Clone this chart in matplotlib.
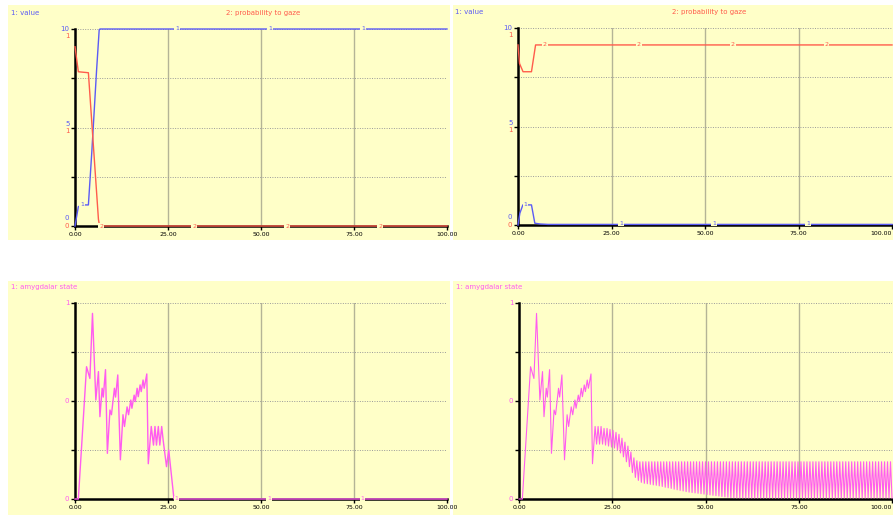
import matplotlib.pyplot as plt
from matplotlib.patches import Rectangle
import numpy as np

W, H = 893, 516
BG = '#ffffc8'
BLUE = '#5b5bf5'
RED = '#ff5c4c'
PINK = '#ff5cf0'

# top-left run: value (0-10) and probability to gaze (0-1)
value_t_a = [0, 0.9, 1.8, 3.6, 4.5, 5.8, 6.5, 6.7, 100]
value_a = [0, 0.98, 1.07, 1.07, 3.7, 7.9, 9.95, 10, 10]
gaze_t_a = [0, 0.9, 3.6, 4.9, 6.3, 6.6, 100]
gaze_a = [0.91, 0.783, 0.778, 0.42, 0.034, 0, 0]

# top-right run
value_t_b = [0, 0.5, 1.3, 3.6, 4.5, 6.0, 8.0, 100]
value_b = [0, 0.6, 1.02, 1.02, 0.09, 0.05, 0.03, 0.03]
gaze_t_b = [0, 0.4, 1.35, 3.6, 4.7, 100]
gaze_b = [0.914, 0.82, 0.778, 0.778, 0.914, 0.914]

# amygdalar state, common start of both runs
amyg_t = [0, 0.9, 3.1, 4.0, 4.7, 5.6, 6.3, 6.7, 7.3, 7.6, 8.2, 8.7, 9.4, 9.8,
          10.6, 10.9, 11.5, 12.2, 12.9, 13.3, 14.0, 14.4, 15.0, 15.3, 15.9,
          16.2, 16.7, 17.0, 17.5, 17.8, 18.3, 18.6, 19.3, 19.7]
amyg = [0, 0, 0.675, 0.615, 0.947, 0.505, 0.65, 0.42, 0.565, 0.52, 0.66, 0.233,
        0.454, 0.43, 0.565, 0.52, 0.633, 0.2, 0.43, 0.37, 0.47, 0.43, 0.505,
        0.463, 0.53, 0.497, 0.565, 0.522, 0.582, 0.548, 0.607, 0.565, 0.638, 0.18]

# bottom-left run tail
tail_t_a = [20.5, 21.1, 21.5, 21.9, 22.4, 22.8, 23.3, 23.7, 24.6, 25.2, 26.6, 100]
tail_a = [0.37, 0.275, 0.37, 0.275, 0.37, 0.275, 0.37, 0.3, 0.165, 0.25, 0, 0]

# bottom-right run tail: oscillation peaks / troughs, one pair per 0.8 time units from t=20.4
osc_start, osc_step = 20.4, 0.4
osc_peaks = [
    0.37, 0.37, 0.37, 0.36, 0.36, 0.355, 0.35, 0.34, 0.33, 0.31,
    0.29, 0.27, 0.24, 0.21, 0.195, 0.19, 0.19, 0.19, 0.19, 0.19,
    0.19, 0.19, 0.19, 0.19, 0.19, 0.19, 0.19, 0.19, 0.19, 0.19,
    0.19, 0.19, 0.19, 0.19, 0.19, 0.19, 0.19, 0.19, 0.19, 0.19,
    0.19, 0.19, 0.19, 0.19, 0.19, 0.19, 0.19, 0.19, 0.19, 0.19,
    0.19, 0.19, 0.19, 0.19, 0.19, 0.19, 0.19, 0.19, 0.19, 0.19,
    0.19, 0.19, 0.19, 0.19, 0.19, 0.19, 0.19, 0.19, 0.19, 0.19,
    0.19, 0.19, 0.19, 0.19, 0.19, 0.19, 0.19, 0.19, 0.19, 0.19,
    0.19, 0.19, 0.19, 0.19, 0.19, 0.19, 0.19, 0.19, 0.19, 0.19,
    0.19, 0.19, 0.19, 0.19, 0.19, 0.19, 0.19, 0.19, 0.19, 0.19,
]
osc_troughs = [
    0.28, 0.28, 0.28, 0.275, 0.27, 0.265, 0.26, 0.25, 0.235, 0.215,
    0.19, 0.165, 0.135, 0.11, 0.095, 0.085, 0.08, 0.078, 0.075, 0.072,
    0.07, 0.067, 0.064, 0.06, 0.057, 0.054, 0.05, 0.047, 0.044, 0.041,
    0.038, 0.035, 0.033, 0.031, 0.029, 0.027, 0.025, 0.023, 0.021, 0.019,
    0.017, 0.015, 0.013, 0.011, 0.009, 0.007, 0.006, 0.005, 0.005, 0.005,
    0.005, 0.005, 0.005, 0.005, 0.005, 0.005, 0.005, 0.005, 0.005, 0.005,
    0.005, 0.005, 0.005, 0.005, 0.005, 0.005, 0.005, 0.005, 0.005, 0.005,
    0.005, 0.005, 0.005, 0.005, 0.005, 0.005, 0.005, 0.005, 0.005, 0.005,
    0.005, 0.005, 0.005, 0.005, 0.005, 0.005, 0.005, 0.005, 0.005, 0.005,
    0.005, 0.005, 0.005, 0.005, 0.005, 0.005, 0.005, 0.005, 0.005, 0.005,
]

xticks = [0, 25, 50, 75, 100]
xticklabels = ['0.00', '25.00', '50.00', '75.00', '100.00']

fig = plt.figure(figsize=(W / 100, H / 100), dpi=100)
fig.patch.set_facecolor('white')


def panel(bg_box, ax_box, right_edge=False):
    x0, y0, x1, y1 = bg_box
    fig.patches.append(Rectangle((x0 / W, 1 - y1 / H), (x1 - x0) / W, (y1 - y0) / H,
                                 transform=fig.transFigure, facecolor=BG,
                                 edgecolor='none', zorder=-10))
    l, t, r, b = ax_box
    ax = fig.add_axes([l / W, 1 - b / H, (r - l) / W, (b - t) / H])
    ax.set_facecolor('none')
    ax.set_xlim(0, 100)
    ax.set_ylim(0, 1)
    for s in ['top', 'right']:
        ax.spines[s].set_visible(False)
    for s in ['left', 'bottom']:
        ax.spines[s].set_linewidth(1.8)
        ax.spines[s].set_color('black')
    ax.set_xticks(xticks)
    ax.set_xticklabels(xticklabels, fontsize=4.5)
    if right_edge:
        ax.get_xticklabels()[-1].set_ha('right')
    ax.set_yticks([0, 0.25, 0.5, 0.75, 1])
    ax.set_yticklabels([])
    ax.tick_params(axis='both', length=3, width=1, pad=1.5, direction='out')
    for x in [25, 50, 75]:
        ax.axvline(x, color='#b4b496', lw=1, zorder=1)
    for y in [0.25, 0.5, 0.75, 1.0]:
        ax.axhline(y, color='#9a9a9a', lw=0.7, ls=(0, (1, 1.5)), zorder=1)
    return ax


def ylab(ax, y, txt, color, dy):
    ax.annotate(txt, xy=(0, y), xycoords='axes fraction', xytext=(-4, dy),
                textcoords='offset points', ha='right', va='center',
                fontsize=5, color=color)


def linelab(ax, xs, ys, txt, color):
    for x, y in zip(xs, ys):
        ax.text(x, y, txt, color=color, fontsize=4.5, ha='center', va='center',
                zorder=5, clip_on=False,
                bbox=dict(boxstyle='square,pad=0.15', fc=BG, ec='none'))


# top-left
ax = panel((8, 5, 450, 240), (75, 29, 447, 226))
ax.plot(value_t_a, np.array(value_a) / 10, color=BLUE, lw=1.0, zorder=3, clip_on=False)
ax.plot(gaze_t_a, gaze_a, color=RED, lw=1.0, zorder=3, clip_on=False)
linelab(ax, [1.9, 27.4, 52.4, 77.4], [0.107, 1, 1, 1], '1', BLUE)
linelab(ax, [7.0, 32.0, 57.0, 82.0], [0, 0, 0, 0], '2', RED)
for y, b, r, db, dr in [(1, '10', '1', 0, -5), (0.5, '5', '1', 2.5, -2.5), (0, '0', '0', 6, 0)]:
    ylab(ax, y, b, BLUE, db)
    ylab(ax, y, r, RED, dr)
fig.text(11 / W, 1 - 13 / H, '1: value', color=BLUE, fontsize=5, va='center')
fig.text(263 / W, 1 - 13 / H, '2: probability to gaze', color=RED, fontsize=5,
         va='center', ha='center')

# top-right
ax = panel((453, 5, 893, 240), (518, 28, 892, 225), right_edge=True)
ax.plot(value_t_b, np.array(value_b) / 10, color=BLUE, lw=1.0, zorder=3, clip_on=False)
ax.plot(gaze_t_b, gaze_b, color=RED, lw=1.0, zorder=3, clip_on=False)
linelab(ax, [2.0, 27.5, 52.5, 77.5], [0.102, 0.01, 0.01, 0.01], '1', BLUE)
linelab(ax, [7.2, 32.3, 57.4, 82.5], [0.914] * 4, '2', RED)
for y, b, r, db, dr in [(1, '10', '1', 0, -5), (0.5, '5', '1', 2.5, -2.5), (0, '0', '0', 6, 0)]:
    ylab(ax, y, b, BLUE, db)
    ylab(ax, y, r, RED, dr)
fig.text(455 / W, 1 - 12 / H, '1: value', color=BLUE, fontsize=5, va='center')
fig.text(709 / W, 1 - 12 / H, '2: probability to gaze', color=RED, fontsize=5,
         va='center', ha='center')

# bottom-left
ax = panel((8, 281, 450, 515), (75, 303, 447, 499))
ax.plot(amyg_t + tail_t_a, amyg + tail_a, color=PINK, lw=1.0, zorder=3, clip_on=False)
linelab(ax, [27.3, 52.2, 77.3], [0, 0, 0], '1', PINK)
for y, txt in [(1, '1'), (0.5, '0'), (0, '0')]:
    ylab(ax, y, txt, PINK, 0)
fig.text(11 / W, 1 - 287 / H, '1: amygdalar state', color=PINK, fontsize=5, va='center')

# bottom-right
osc_vals = np.ravel(np.column_stack([osc_peaks, osc_troughs]))
osc_t = osc_start + osc_step * np.arange(len(osc_vals))
ax = panel((453, 281, 893, 515), (519, 303, 892, 499), right_edge=True)
ax.plot(list(amyg_t) + list(osc_t), list(amyg) + list(osc_vals), color=PINK, lw=0.8,
        zorder=3, clip_on=False)
for y, txt in [(1, '1'), (0.5, '0'), (0, '0')]:
    ylab(ax, y, txt, PINK, 0)
fig.text(456 / W, 1 - 287 / H, '1: amygdalar state', color=PINK, fontsize=5, va='center')

fig.savefig('out.png', dpi=100)
